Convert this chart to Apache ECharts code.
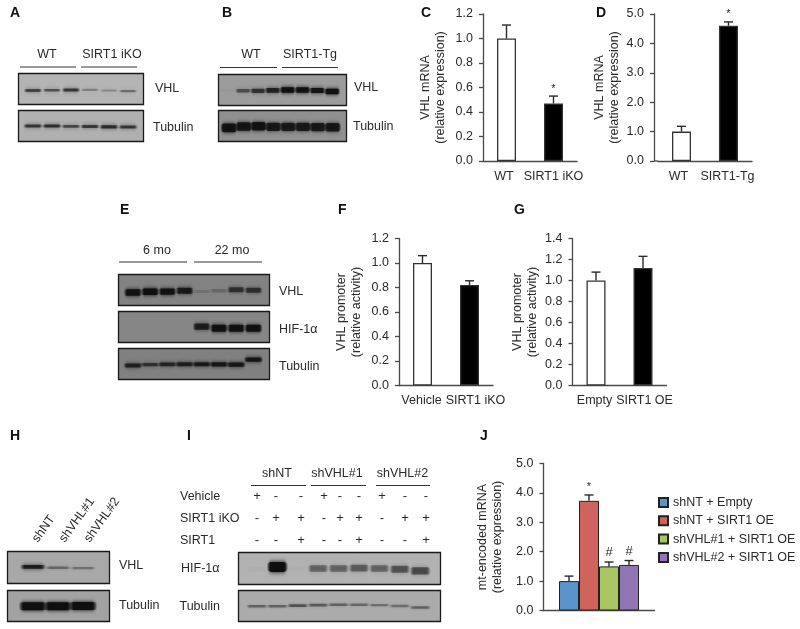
<!DOCTYPE html>
<html><head><meta charset="utf-8">
<style>html,body{margin:0;padding:0;background:#fff}#c{width:800px;height:629px;filter:blur(0.4px)}</style>
<script src="https://cdn.jsdelivr.net/npm/echarts@6/dist/echarts.min.js"></script>
</head><body><div id="c"></div>
<script>
// ---------- bar panel data ----------
const cCats=['WT','SIRT1 iKO'], cValues=[1.0,0.47], cErrTop=[1.11,0.53], cMarks=['','*'];
const dCats=['WT','SIRT1-Tg'], dValues=[1.0,4.6], dErrTop=[1.18,4.73], dMarks=['','*'];
const fCats=['Vehicle','SIRT1 iKO'], fValues=[1.0,0.82], fErrTop=[1.06,0.855], fMarks=['',''];
const gCats=['Empty','SIRT1 OE'], gValues=[1.0,1.12], gErrTop=[1.08,1.23], gMarks=['',''];
const jNames=['shNT + Empty','shNT + SIRT1 OE','shVHL#1 + SIRT1 OE','shVHL#2 + SIRT1 OE'];
const jValues=[1.0,3.73,1.5,1.55], jErrTop=[1.17,3.93,1.65,1.7], jMarks=['','*','#','#'];
const yMaxC=1.2, yMaxD=5, yMaxF=1.2, yMaxG=1.4, yMaxJ=5;
const yStepC=0.2, yStepD=1, yStepF=0.2, yStepG=0.2, yStepJ=1;

// ---------- blot band levels (0-1) and vertical drift ----------
const aVhl=[.62,.55,.7,.3,.25,.4], aVhlDrift=[.1,.08,.06,.06,.1,.14];
const aTub=[.7,.75,.6,.68,.75,.7], aTubDrift=[0,0,.02,.04,.06,.06];
const bVhl=[.06,.5,.68,.8,1,.95,.92,.98], bVhlDrift=[.02,.05,.05,.03,0,0,.03,.1];
const bTub=[.95,.9,.92,.85,.85,.85,.85,.88], bTubDrift=[.12,.04,.02,.05,.05,.05,.07,.08];
const eVhl=[.95,1,.95,.85,.15,.22,.65,.65], eVhlDrift=[.16,.12,.1,.05,.1,.05,-.02,.02];
const eHif=[0,0,0,0,.8,.95,.95,.95], eHifDrift=[0,0,0,0,-.02,.08,.08,.08];
const eTub=[.8,.65,.75,.8,.85,.88,.9,.9], eTubDrift=[.1,.04,.02,.02,.02,.02,.04,-.28];
const hVhl=[.85,.4,.35], hVhlDrift=[-.04,.02,.04];
const hTub=[1,1,1], hTubDrift=[.02,.02,.0];
const iHif=[.03,1,.02,.42,.42,.46,.42,.5,.55], iHifDrift=[.05,-.1,0,0,0,-.03,0,.05,.15];
const iTub=[.42,.42,.5,.45,.42,.38,.35,.35,.42], iTubDrift=[.02,.02,-.02,-.06,-.08,-.08,-.06,0,.1];

// ---------- text ----------
const iRows=['Vehicle','SIRT1 iKO','SIRT1'];
const iVehicle=['+','-','-','+','-','-','+','-','-'];
const iKO=['-','+','+','-','+','+','-','+','+'];
const iSirt=['-','-','+','-','-','+','-','-','+'];
const iGroups=['shNT','shVHL#1','shVHL#2'];
const hSamples=['shNT','shVHL#1','shVHL#2'];

const FONT='"Liberation Sans",Arial,sans-serif', INK='#2a2a2a', AX='#4a4a4a';
const grid=[],xAxis=[],yAxis=[],series=[],graphic=[];

function text(t,x,y,opt={}){
  graphic.push({type:'text',x,y,rotation:opt.rot||0,silent:true,style:{text:t,
    font:(opt.bold?'bold ':'')+(opt.size||12.5)+'px '+FONT,fill:opt.fill||INK,
    align:opt.align||'left',verticalAlign:'middle'}});
}
function rule(x1,x2,y){
  graphic.push({type:'line',silent:true,shape:{x1,y1:y,x2,y2:y},style:{stroke:'#333',lineWidth:1}});
}

function errorSeries(ix,tops,values,marks,offset){
  series.push({type:'custom',xAxisIndex:ix,yAxisIndex:ix,silent:true,z:1,clip:false,
    data:tops.map((t,i)=>[offset?0:i,t,values[i]]),encode:{x:0,y:1},
    renderItem(p,api){
      const i=p.dataIndex, dx=offset?(i-(tops.length-1)/2)*offset:0;
      const a=api.coord([api.value(0),api.value(1)]), b=api.coord([api.value(0),api.value(2)]);
      const x=a[0]+dx, st={stroke:INK,lineWidth:1.4};
      const ch=[{type:'line',shape:{x1:x,y1:a[1],x2:x,y2:b[1]},style:st},
                {type:'line',shape:{x1:x-4.5,y1:a[1],x2:x+4.5,y2:a[1]},style:st}];
      if(marks[i]) ch.push({type:'text',x,y:a[1]-(marks[i]==='*'?2:3),style:{text:marks[i],
        font:(marks[i]==='*'?'11px ':'13px ')+FONT,fill:INK,align:'center',verticalAlign:'bottom'}});
      return {type:'group',children:ch};
    }});
}
function axes(box,cats,max,step,name,nameGap,yOffset,shift){
  const ix=grid.length;
  grid.push({left:box[0],top:box[1],width:box[2],height:box[3]});
  xAxis.push({type:'category',gridIndex:ix,
    data:cats.map((c,i)=>{const s=shift?shift[i]:0;return {value:c,textStyle:{padding:s>0?[0,0,0,2*s]:[0,-2*s,0,0]}};}),
    axisLine:{show:true,lineStyle:{color:AX,width:1.3}},axisTick:{show:false},
    axisLabel:{show:!!cats.join(''),interval:0,margin:9,fontSize:12.5,fontFamily:FONT,color:INK}});
  yAxis.push({type:'value',gridIndex:ix,min:0,max,interval:step,offset:yOffset||0,
    name,nameLocation:'middle',nameRotate:90,nameGap,
    nameTextStyle:{fontSize:12.5,fontFamily:FONT,color:INK,lineHeight:15},
    splitLine:{show:false},axisLine:{show:true,lineStyle:{color:AX,width:1.3}},
    axisTick:{show:true,length:4,lineStyle:{color:AX,width:1.3}},
    axisLabel:{margin:10,fontSize:12.5,fontFamily:FONT,color:INK,formatter:v=>v.toFixed(1)}});
  return ix;
}
function twoBars(box,cats,vals,tops,marks,max,step,name,nameGap,yOffset,shift){
  const ix=axes(box,cats,max,step,name,nameGap,yOffset,shift);
  series.push({type:'bar',xAxisIndex:ix,yAxisIndex:ix,barWidth:19,silent:true,
    data:vals.map((v,i)=>({value:v,itemStyle:{color:i?'#000':'#fff',borderColor:'#333',borderWidth:1.3}}))});
  errorSeries(ix,tops,vals,marks);
}

function blot(frame,first,pitch,levels,drift,bg,wFrac,h0,hGain,blur){
  const ix=grid.length,[x0,y0,x1,y1]=frame;
  grid.push({show:true,left:x0,top:y0,width:x1-x0,height:y1-y0,backgroundColor:bg,borderColor:'#1a1a1a',borderWidth:1.3});
  xAxis.push({type:'value',gridIndex:ix,show:false,min:(x0-first)/pitch,max:(x1-first)/pitch});
  yAxis.push({type:'value',gridIndex:ix,show:false,min:-1,max:1,inverse:true});
  series.push({type:'custom',xAxisIndex:ix,yAxisIndex:ix,silent:true,
    data:levels.map((l,i)=>[i,drift[i],l]),encode:{x:0,y:1},
    renderItem(p,api){
      const c=api.coord([api.value(0),api.value(1)]),lev=api.value(2);
      if(lev<=0) return null;
      const w=pitch*wFrac,h=h0+lev*hGain,col=`rgba(15,15,15,${Math.min(1,lev)})`,clear='rgba(15,15,15,0)';
      return {type:'rect',shape:{x:c[0]-w/2,y:c[1]-h/2,width:w,height:h,r:h/2},
        style:{fill:new echarts.graphic.LinearGradient(0,0,1,0,[
          {offset:0,color:clear},{offset:.18,color:col},{offset:.82,color:col},{offset:1,color:clear}]),
          shadowBlur:blur,shadowColor:col}};
    }});
}

// ---------- A ----------
blot([18.5,73.5,143.5,104.5],33,19,aVhl,aVhlDrift,'#b4b4b4',1,1.5,2.2,4);
blot([18.5,110.5,143.5,141.5],33,19,aTub,aTubDrift,'#b0b0b0',1.05,1.5,2.2,4);
rule(20,76,67);rule(81,137,67);
text('WT',47,55,{align:'center'});text('SIRT1 iKO',112,55,{align:'center'});
text('VHL',155,89);text('Tubulin',153,128);
// ---------- B ----------
blot([218.5,74.5,346.5,105.5],228.5,14.8,bVhl,bVhlDrift,'#9c9c9c',1.12,1.5,4,4);
blot([218.5,110.5,346.5,141.5],229,14.8,bTub,bTubDrift,'#909090',1.2,4,5,4);
rule(220,277,67.5);rule(282,338,67.5);
text('WT',251,55,{align:'center'});text('SIRT1-Tg',310,55,{align:'center'});
text('VHL',354,88);text('Tubulin',353,127);
// ---------- C, D ----------
twoBars([483,14,94,147],cCats,cValues,cErrTop,cMarks,yMaxC,yStepC,'VHL mRNA\n(relative expression)',35,0,[-2.5,0]);
twoBars([658,14,94,147],dCats,dValues,dErrTop,dMarks,yMaxD,yStepD,'VHL mRNA\n(relative expression)',32,4,[-3,-1]);
graphic.push({type:'line',silent:true,shape:{x1:654,y1:161,x2:658,y2:161},style:{stroke:AX,lineWidth:1.3}});
// ---------- E ----------
blot([118.5,274.5,269.5,305.5],133,17.2,eVhl,eVhlDrift,'#828282',1.08,2.5,4,4);
blot([118.5,311.5,269.5,342.5],133,17.2,eHif,eHifDrift,'#868686',1.08,3,4,4);
blot([118.5,348.5,269.5,379.5],133,17.2,eTub,eTubDrift,'#808080',1.15,1.5,3,4);
rule(119,187,262);rule(194,262,262);
text('6 mo',157,251,{align:'center'});text('22 mo',232,251,{align:'center'});
text('VHL',279,292);text('HIF-1α',279,330);text('Tubulin',279,367);
// ---------- F, G ----------
twoBars([399,238.5,94,147],fCats,fValues,fErrTop,fMarks,yMaxF,yStepF,'VHL promoter\n(relative activity)',34.5,0,[-1,6]);
twoBars([572.5,238.5,94,147],gCats,gValues,gErrTop,gMarks,yMaxG,yStepG,'VHL promoter\n(relative activity)',32,0,[-1.5,1.5]);
// ---------- H ----------
blot([7.5,551.5,109.5,583.5],33,25,hVhl,hVhlDrift,'#a8a8a8',1.05,1.5,2.6,4);
blot([7.5,590.5,109.5,621.5],33,25,hTub,hTubDrift,'#a2a2a2',1.15,4,4,4);
const hStarts=[35,62,87];
hSamples.forEach((s,i)=>text(s,hStarts[i],541,{rot:0.95}));
text('VHL',119,566);text('Tubulin',119,606);
// ---------- I ----------
blot([238.5,552.5,440.5,584.5],257,20.4,iHif,iHifDrift,'#b2b2b2',1.05,4,6,5);
blot([238.5,590.5,440.5,621.5],257,20.4,iTub,iTubDrift,'#ababab',1.08,1.5,2.5,3);
rule(251,306,485.5);rule(311,366,485.5);rule(376,430,485.5);
const groupCx=[277,337,402.5];
iGroups.forEach((g,i)=>text(g,groupCx[i],474,{align:'center'}));
const rowY=[497,519,541], columnX=[257,276,301,324,340,359,382,405,426];
iRows.forEach((r,i)=>text(r,180,rowY[i]));
[iVehicle,iKO,iSirt].forEach((row,r)=>row.forEach((s,c)=>text(s,columnX[c],rowY[r]-1,{align:'center',size:13})));
text('HIF-1α',181,569);text('Tubulin',179.5,607);
// ---------- J ----------
const jColors=['#5b93cb','#d0635b','#a8c463','#9276b3'];
const jx=axes([543.5,463.5,111,147],[''],yMaxJ,yStepJ,'mt-encoded mRNA\n(relative expression)',38);
jNames.forEach((n,i)=>series.push({type:'bar',name:n,xAxisIndex:jx,yAxisIndex:jx,barWidth:20,barGap:0,silent:true,
  data:[jValues[i]],itemStyle:{color:jColors[i],borderColor:'#222',borderWidth:1}}));
errorSeries(jx,jErrTop,jValues,jMarks,20);
// ---------- panel letters ----------
const letters=['A','B','C','D','E','F','G','H','I','J'];
const letterX=[10,222,421,596,120,338,514,10,187,480], letterY=[13,13,13,13,210,210,210,436,436,436];
letters.forEach((l,i)=>text(l,letterX[i],letterY[i],{bold:true,size:14,fill:'#111'}));

const chart=echarts.init(document.getElementById('c'),null,{renderer:'canvas'});
chart.setOption({animation:false,backgroundColor:'#fff',textStyle:{fontFamily:FONT},
  grid,xAxis,yAxis,series,graphic,
  legend:{data:jNames,orient:'vertical',left:658,top:496,padding:0,itemWidth:9,itemHeight:9,itemGap:5.3,
    icon:'rect',selectedMode:false,textStyle:{fontSize:12.5,fontFamily:FONT,color:INK}}});
</script></body></html>
